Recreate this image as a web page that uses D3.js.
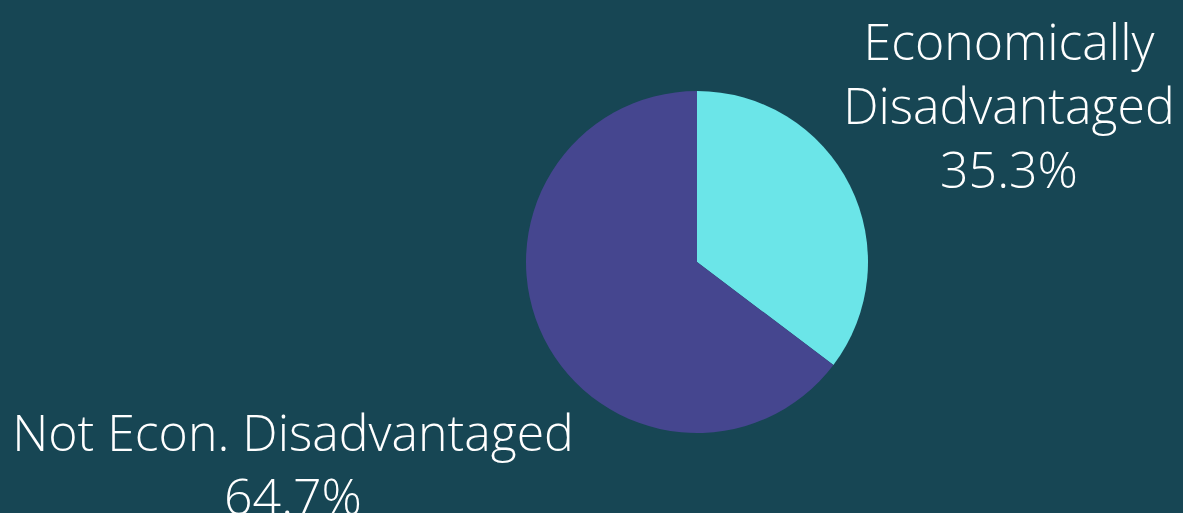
<!DOCTYPE html>
<html>
<head>
<meta charset="utf-8">
<script src="https://cdn.jsdelivr.net/npm/d3@7"></script>
<style>
  body { margin: 0; background: #174654; }
  svg { display: block; }
  .lbl { font-family: "Open Sans", sans-serif; font-weight: 300; fill: #ffffff; }
</style>
</head>
<body>
<svg width="1183" height="513"></svg>
<script>
var categories = ["Economically Disadvantaged", "Not Econ. Disadvantaged"];
var values = [35.3, 64.7];
var colors = ["#6be5e8", "#45468f"];
var labelLines = [["Economically", "Disadvantaged", "35.3%"], ["Not Econ. Disadvantaged", "64.7%"]];

var svg = d3.select("svg"),
    width = 1183,
    height = 513;

var cx = 697, cy = 262, radius = 171;

var pie = d3.pie().sort(null).value(function(d) { return d; });
var arc = d3.arc().innerRadius(0).outerRadius(radius);

var g = svg.append("g").attr("transform", "translate(" + cx + "," + cy + ")");
g.selectAll("path")
    .data(pie(values))
    .enter().append("path")
    .attr("d", arc)
    .style("fill", function(d, i) { return colors[i]; });

// labels
var fontSize = 50;
var lineGap = 64;
var labelPos = [[1009, 60], [293, 451]];

labelLines.forEach(function(lines, i) {
    var t = svg.append("text")
        .attr("class", "lbl")
        .attr("text-anchor", "middle")
        .style("font-size", fontSize + "px");
    lines.forEach(function(s, j) {
        t.append("tspan")
            .attr("x", labelPos[i][0])
            .attr("y", labelPos[i][1] + j * lineGap)
            .text(s);
    });
});
</script>
</body>
</html>
